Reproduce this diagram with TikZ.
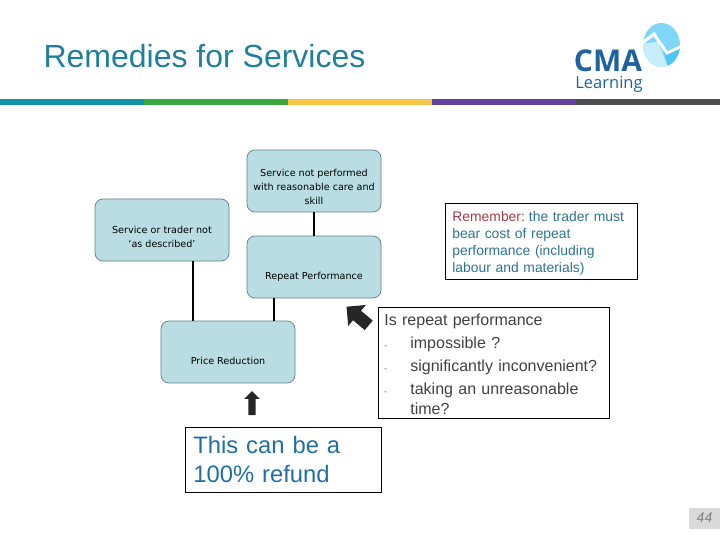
\documentclass[tikz,border=0pt]{standalone}
\usepackage{fontspec}
\setmainfont{Liberation Sans}
\newfontfamily\boxfont{DejaVu Sans}
\newfontfamily\logofont{Open Sans}
\usetikzlibrary{calc,positioning,shapes.arrows}
\definecolor{titleblue}{HTML}{1F7F9C}
\definecolor{boxfill}{HTML}{B9DDE3}
\definecolor{boxline}{HTML}{5F7F86}
\definecolor{notered}{HTML}{A23A48}
\definecolor{noteblue}{HTML}{2C7391}
\definecolor{refundblue}{HTML}{1F6FA3}
\definecolor{plaingrey}{HTML}{404040}
\definecolor{cmablue}{HTML}{1F639E}
\definecolor{barteal}{HTML}{0F93A5}
\definecolor{bargreen}{HTML}{38A83F}
\definecolor{baryellow}{HTML}{F7C544}
\definecolor{barpurple}{HTML}{6440A0}
\definecolor{bargrey}{HTML}{4D4D50}
\tikzset{
    remedy/.style={rectangle,draw=boxline,fill=boxfill,rounded corners=8pt,line width=0.7pt,
        minimum width=134pt,minimum height=62pt,inner sep=0pt,align=center,
        font=\boxfont\fontsize{9.6}{14}\selectfont},
    link/.style={black,line width=1.3pt},
    notebox/.style={rectangle,draw=black,line width=0.7pt,inner ysep=0pt,align=left,anchor=north west},
    bigarrow/.style={single arrow,fill=black!85,draw=none,inner sep=0pt},
    barpart/.style={minimum width=144pt,minimum height=6pt,inner sep=0pt,anchor=north west}
}
\begin{document}
\begin{tikzpicture}[x=1pt,y=-1pt]
        \useasboundingbox (0,0) rectangle (720,540);

        \node[font=\fontsize{32}{36}\selectfont,text=titleblue] (title) at (204.5,56) {Remedies for Services};

        % colour bar
        \node[barpart,fill=barteal] (bar1) at (0,99) {};
        \node[barpart,fill=bargreen] (bar2) at (144,99) {};
        \node[barpart,fill=baryellow] (bar3) at (288,99) {};
        \node[barpart,fill=barpurple] (bar4) at (432,99) {};
        \node[barpart,fill=bargrey] (bar5) at (576,99) {};

        % logo
        \begin{scope}
            \clip (661.5,45) ellipse (18.5pt and 22pt);
            \fill[cyan!50!white] (640,20) rectangle (685,70);
            \fill[cyan!22!white] (640,44) -- (658,42) -- (669,70) -- (640,70) -- cycle;
            \fill[cyan!70!white] (664,52) -- (685,44) -- (685,70) -- (669,70) -- cycle;
            \draw[white,line width=3pt] (641,44) -- (654,34) -- (660,43) -- (667,53) -- (682,46);
        \end{scope}
        \node[font=\logofont\bfseries\fontsize{30}{30}\selectfont,text=cmablue,inner sep=0pt] (cma) at (608,60.5) {CMA};
        \node[font=\logofont\fontsize{16.5}{17}\selectfont,text=cmablue,inner sep=0pt] (learning) at (609,84.5) {Learning};

        % flow boxes
        \node[remedy] (careskill) at (314,181) {\\[6pt]Service not performed\\with reasonable care and\\skill};
        \node[remedy] (described) at (162,230) {\\[8pt]Service or trader not\\‘as described’};
        \node[remedy] (repeat) at (314,267) {\\[12pt]Repeat Performance};
        \node[remedy] (price) at (228,352) {\\[12pt]Price Reduction};

        \draw[link] (careskill) -- (repeat);
        \draw[link] ([xshift=-40pt]repeat.south) -- ([xshift=46pt]price.north);
        \draw[link] ([xshift=31pt]described.south) -- ([xshift=-35pt]price.north);

        % notes
        \node[notebox,minimum height=76pt,text width=178pt,inner xsep=7pt,text=noteblue,
            font=\fontsize{13.9}{17}\selectfont] (remember) at (445,203)
            {\rule{0pt}{14pt}\textcolor{notered}{Remember:}\hspace{-3pt} the trader must\\bear cost of repeat\\performance (including\\labour and materials)};
        \node[notebox,minimum height=111pt,text width=219pt,inner xsep=6pt,text=plaingrey,
            font=\fontsize{16}{23}\selectfont] (question) at (378,307)
            {\rule{0pt}{15pt}Is repeat performance\\
            \makebox[26pt][l]{\fontsize{8}{8}\selectfont-}impossible ?\\
            \makebox[26pt][l]{\fontsize{8}{8}\selectfont-}significantly inconvenient?\\
            \makebox[26pt][l]{\fontsize{8}{8}\selectfont-}taking an unreasonable\\[-3pt]
            \makebox[26pt][l]{}time?};
        \node[notebox,minimum height=65pt,text width=180pt,inner xsep=8pt,text=refundblue,
            font=\fontsize{23.8}{29}\selectfont] (refund) at (185,427)
            {This can be a\\100\% refund};

        % pointers
        \node[bigarrow,rotate=90,minimum height=24pt,single arrow head extend=4pt] (uparrow) at (252,405) {\rule{0pt}{7pt}};
        \node[bigarrow,rotate=140,minimum height=29pt,single arrow head extend=7.5pt] (diagarrow) at (360,318) {\rule{0pt}{12pt}};

        % page number
        \node[fill=black!15,minimum width=31pt,minimum height=21pt,inner sep=0pt,text=black!50,
            font=\fontsize{14}{14}\selectfont\itshape] (pagenum) at (704.5,518) {44};
\end{tikzpicture}
\end{document}
